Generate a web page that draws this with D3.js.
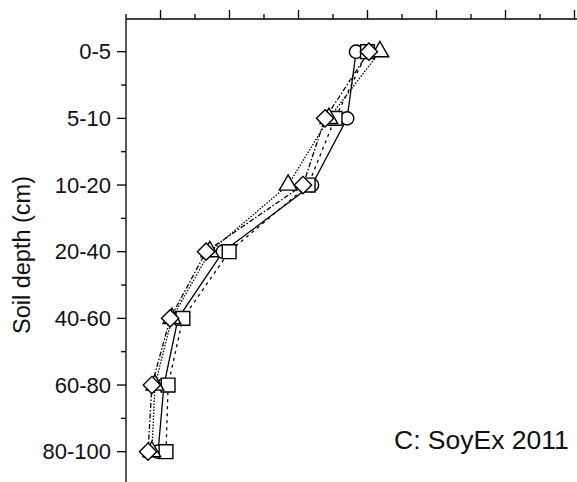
<!DOCTYPE html>
<html>
<head>
<meta charset="utf-8">
<script src="https://cdn.jsdelivr.net/npm/d3@7"></script>
<style>
  html, body { margin: 0; padding: 0; background: #fff; }
  svg { display: block; font-family: "Liberation Sans", Arial, sans-serif; }
</style>
</head>
<body>
<svg id="chart" width="577" height="482"></svg>
<script>
// ---- data ----
const depths = ["0-5", "5-10", "10-20", "20-40", "40-60", "60-80", "80-100"];
const circleVals   = [6.67, 6.41, 5.39, 2.81, 1.51, 1.10, 0.93];
const squareVals   = [7.00, 6.06, 5.28, 2.99, 1.65, 1.22, 1.16];
const triangleVals = [7.36, 5.88, 4.70, 2.43, 1.33, 0.84, 0.75];
const diamondVals  = [7.04, 5.77, 5.13, 2.32, 1.28, 0.75, 0.64];
const annotation = "C: SoyEx 2011";
const yTitle = "Soil depth (cm)";

const series = [
  { name: "circle",   values: circleVals,   symbol: d3.symbolCircle,   size: 140, dash: null,       rotate: 0 },
  { name: "square",   values: squareVals,   symbol: d3.symbolSquare,   size: 190, dash: "3,4",      rotate: 0 },
  { name: "triangle", values: triangleVals, symbol: d3.symbolTriangle, size: 135, dash: "1.5,1.5",  rotate: 0 },
  { name: "diamond",  values: diamondVals,  symbol: d3.symbolSquare,   size: 150, dash: "5,2,1.5,2", rotate: 45 }
];

const svg = d3.select("#chart");
const axisX0 = 126, axisY0 = 19;

const x = d3.scaleLinear().domain([0, 13]).range([axisX0, axisX0 + 13 * 34.5]);
const y = d3.scaleLinear().domain([0, 6]).range([51.7, 451.7]);

// ---- axes ----
const g = svg.append("g");
g.append("line").attr("x1", axisX0).attr("x2", axisX0).attr("y1", axisY0).attr("y2", 482)
  .attr("stroke", "#000").attr("stroke-width", 1.3);
g.append("line").attr("x1", axisX0).attr("x2", 577).attr("y1", axisY0).attr("y2", axisY0)
  .attr("stroke", "#000").attr("stroke-width", 1.3);

depths.forEach((d, i) => {
  g.append("line").attr("x1", axisX0 - 9).attr("x2", axisX0).attr("y1", y(i)).attr("y2", y(i))
    .attr("stroke", "#000").attr("stroke-width", 1.3);
  g.append("text").attr("x", axisX0 - 15).attr("y", y(i)).attr("dy", "0.35em")
    .attr("text-anchor", "end").attr("font-size", 22).attr("fill", "#111").text(d);
});
d3.range(0.5, 6.5, 1).forEach(v => {
  g.append("line").attr("x1", axisX0 - 5).attr("x2", axisX0).attr("y1", y(v)).attr("y2", y(v))
    .attr("stroke", "#000").attr("stroke-width", 1.3);
});
d3.range(0, 14).forEach(v => {
  const major = v % 2 === 1;
  g.append("line").attr("x1", x(v)).attr("x2", x(v)).attr("y1", axisY0 - (major ? 9 : 5)).attr("y2", axisY0)
    .attr("stroke", "#000").attr("stroke-width", 1.3);
});

// y title
svg.append("text").attr("transform", `translate(22,255) rotate(-90)`)
  .attr("text-anchor", "middle").attr("dy", "0.35em").attr("font-size", 23.5).attr("fill", "#111").text(yTitle);

// annotation
svg.append("text").attr("x", 394).attr("y", 449).attr("font-size", 26.5).attr("fill", "#111").text(annotation);

// ---- lines ----
const line = d3.line().x(d => x(d.v)).y(d => y(d.i));
series.forEach(s => {
  const pts = s.values.map((v, i) => ({ v, i }));
  svg.append("path").attr("d", line(pts)).attr("fill", "none").attr("stroke", "#000")
    .attr("stroke-width", 1.3).attr("stroke-dasharray", s.dash);
});

// ---- markers ----
series.forEach(s => {
  const sym = d3.symbol().type(s.symbol).size(s.size);
  svg.append("g").selectAll("path").data(s.values).join("path")
    .attr("d", sym)
    .attr("transform", (v, i) => `translate(${x(v)},${y(i)}) rotate(${s.rotate})`)
    .attr("fill", "#fff").attr("stroke", "#000").attr("stroke-width", 1.4);
});
</script>
</body>
</html>
